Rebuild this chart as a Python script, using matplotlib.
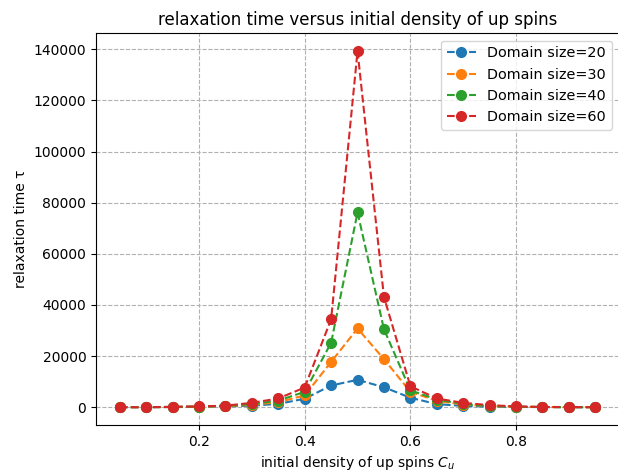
import matplotlib
matplotlib.use("Agg")
import matplotlib.pyplot as plt
import numpy as np

density = [0.05, 0.10, 0.15, 0.20, 0.25, 0.30, 0.35, 0.40, 0.45, 0.50,
           0.55, 0.60, 0.65, 0.70, 0.75, 0.80, 0.85, 0.90, 0.95]
tau_20 = [0, 0, 50, 150, 300, 600, 1300, 3300, 8500, 10700,
          7800, 3700, 1200, 500, 200, 100, 50, 0, 0]
tau_30 = [0, 0, 80, 200, 400, 900, 2000, 4600, 17700, 30800,
          18800, 6000, 2500, 1000, 400, 150, 60, 0, 0]
tau_40 = [0, 0, 100, 250, 500, 1200, 2600, 6000, 25200, 76200,
          30500, 6600, 3000, 1200, 500, 200, 80, 0, 0]
tau_60 = [0, 0, 150, 300, 600, 1700, 3400, 7700, 34400, 139300,
          43100, 8200, 3400, 1700, 800, 300, 100, 50, 0]
labels = ["Domain size=20", "Domain size=30", "Domain size=40", "Domain size=60"]
colors = ["#1f77b4", "#ff7f0e", "#2ca02c", "#d62728"]

fig = plt.figure(figsize=(6.18, 4.73), dpi=100)
ax = fig.add_axes([0.1553, 0.1015, 0.8465, 0.828])
for vals, lab, c in zip([tau_20, tau_30, tau_40, tau_60], labels, colors):
    ax.plot(density, vals, "--o", color=c, label=lab, markersize=7)
ax.grid(True, linestyle="--", color="#b0b0b0")
ax.set_title("relaxation time versus initial density of up spins")
ax.set_xlabel("initial density of up spins $C_u$")
ax.set_ylabel("relaxation time τ")
ax.legend(loc="upper right", fontsize=10.4)
fig.savefig("out.png", dpi=100)
